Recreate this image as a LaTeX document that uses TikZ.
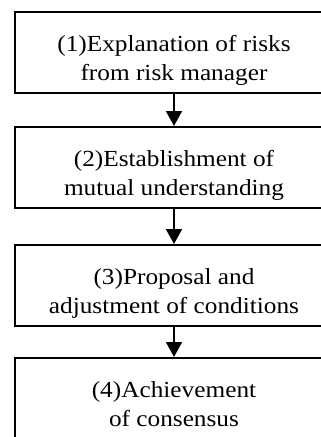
\documentclass[tikz,border=0pt]{standalone}
\usepackage{fontspec}
\setmainfont{Liberation Serif}
\newfontfamily\boxfont[FakeStretch=1.1]{Liberation Serif}
\usetikzlibrary{arrows.meta}
\begin{document}
\begin{tikzpicture}[x=1pt,y=-1pt,
  stepbox/.style={draw=black,line width=2pt,minimum width=318pt,minimum height=81pt,
    align=center,font=\boxfont\fontsize{23}{29}\selectfont,inner sep=0pt,
    text depth=0pt},
  steptext/.style={yshift=-3.7pt},
  flow/.style={line width=2pt,-{Triangle[width=16pt,length=15pt]}}]
\useasboundingbox (0,0) rectangle (321,437);
\clip (0,0) rectangle (321,437);
\node[stepbox] (b1) at (174,52.5) {};
\node[stepbox] (b2) at (174,167.5) {};
\node[stepbox] (b3) at (174,285.5) {};
\node[stepbox] (b4) at (174,398.5) {};
\node[stepbox,draw=none,steptext] (t1) at (b1) {\strut(1)Explanation of risks\\\strut from risk manager};
\node[stepbox,draw=none,steptext] (t2) at (b2) {\strut(2)Establishment of\\\strut mutual understanding};
\node[stepbox,draw=none,steptext] (t3) at (b3) {\strut(3)Proposal and\\\strut adjustment of conditions};
\node[stepbox,draw=none,steptext] (t4) at (b4) {\strut(4)Achievement\\\strut of consensus};
\draw[flow] (b1) -- (b2);
\draw[flow] (b2) -- (b3);
\draw[flow] (b3) -- (b4);
\end{tikzpicture}
\end{document}
